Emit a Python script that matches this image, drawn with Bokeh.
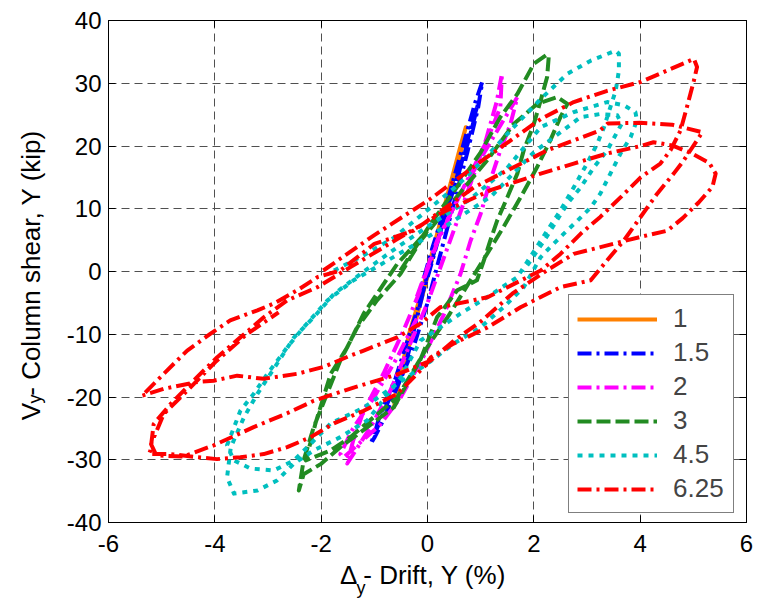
import math
from bokeh.plotting import figure
from bokeh.models import Range1d, LinearAxis, Legend, LegendItem, FixedTicker
from bokeh.embed import file_html
from bokeh.resources import INLINE

# ---------------- data (drift %, column shear kip) ----------------
drift_1 = [-0.15, 0.1, 0.35, 0.55, 0.72, 0.62, 0.4, 0.15, -0.1, -0.35, -0.5, -0.63,
           -0.55, -0.35, -0.1, 0.15, 0.4, 0.6, 0.7]
shear_1 = [-5, 3, 11, 17, 23, 20, 13, 5, -3, -10, -16, -21.6,
           -18, -12, -4, 4, 12, 18, 21.5]

drift_15 = [-0.2, 0.1, 0.4, 0.7, 0.9, 1.03, 0.95, 0.75, 0.5, 0.25, 0.0, -0.3, -0.6, -0.85,
            -1.0, -1.07, -0.95, -0.76, -0.38, 0.0, 0.3, 0.55, 0.78, 0.95, 0.85, 0.6, 0.3,
            0.0, -0.3, -0.6, -0.9, -1.0]
shear_15 = [-5, 4, 12, 21, 27, 30.2, 26, 19, 11, 3, -5, -13, -19, -24,
            -26.5, -27.5, -25, -21.1, -13.7, -0.4, 8, 15, 21, 26.7, 24, 16, 8,
            -1, -9, -17, -23, -26]

drift_2 = [-0.2, 0.18, 0.49, 0.81, 1.12, 1.37, 1.4, 1.3, 1.1, 0.85, 0.6, 0.3, 0.0, -0.35,
           -0.7, -1.05, -1.35, -1.51, -1.4, -1.2, -0.83, -0.45, -0.19, 0.2, 0.6, 1.0, 1.35,
           1.6, 1.69, 1.56, 1.37, 1.18, 1.0, 0.81, 0.62, 0.3, -0.1, -0.5, -0.9, -1.3, -1.57,
           -1.64, -1.4, -1.01, -0.57, -0.19]
shear_2 = [-4, 4.9, 10.2, 15.6, 20.9, 26.2, 31.5, 27, 21, 15, 9, 2, -5, -12,
           -19, -24.5, -28.5, -30.6, -27, -22.2, -16.3, -9.4, -4.1, 5, 12, 18, 23,
           26.5, 27.8, 23.5, 19.3, 14.5, 9.2, 4.9, -0.4, -7, -14, -20, -24.5, -27.5, -29.6,
           -29.1, -25, -20.1, -13.7, -7.3]

drift_3 = [-0.51, 0.06, 0.6, 1.0, 1.37, 1.69, 2.0, 2.25, 2.28, 2.25, 2.13, 2.0, 1.81, 1.69,
           1.5, 1.31, 1.18, 1.06, 0.93, 0.56, 0.18, -0.13, -0.63, -1.13, -1.64, -2.01, -2.33,
           -2.42, -2.33, -2.14, -1.89, -1.64, -1.32, -0.95, -0.51, -0.13, 0.49, 1.12, 1.62,
           2.06, 2.44, 2.63, 2.5, 2.31, 2.06, 1.75, 1.43, 1.12, 0.81, 0.4, 0.0, -0.57, -1.01,
           -1.45, -1.82, -2.29, -2.1, -1.82, -1.51, -1.2, -0.57, 0.0]
shear_3 = [0.16, 7.6, 14, 19, 24.6, 28.3, 33.1, 34.6, 34.2, 31.0, 27.3, 23.5, 19.3, 15.6,
           11.8, 8.1, 4.9, 1.75, -1.4, -3.0, -7.3, -14, -21.6, -24.8, -28.0, -30.7, -32.3,
           -34.9, -30.1, -24.8, -19.5, -14.2, -8.9, -4.6, -0.4, 4.9, 11.3, 17.7, 23.5,
           26.7, 27.8, 26.7, 24.6, 20.9, 16.6, 11.8, 7.1, 2.8, -1.4, -7, -12, -20.1, -23.2,
           -26.4, -28.5, -30.1, -24, -16.3, -12.1, -6.7, 1.2, 6.5]

drift_45 = [-1.76, -1.26, -0.63, 0.06, 0.6, 1.13, 1.62, 2.13, 2.63, 3.07, 3.54, 3.6, 3.6, 3.54,
            3.44, 3.32, 3.19, 3.0, 2.75, 2.5, 2.25, 2.13, 1.69, 1.12, 0.62, 0.24, -0.13, -0.51,
            -1.13, -1.64, -2.14, -2.51, -2.83, -3.2, -3.64, -3.77, -3.7, -3.45, -3.2, -2.83,
            -2.51, -2.14, -1.76, -1.26, -0.63, 0.06, 0.8, 1.5, 2.13, 2.75, 3.38, 3.69, 3.91,
            3.94, 3.82, 3.63, 3.44, 3.25, 3.07, 2.82, 2.56, 2.31, 2.13, 1.81, 1.43, 1.0, 0.49,
            0.0, -0.57, -1.2, -1.82, -2.2, -2.51, -2.89, -3.33, -3.64, -3.77, -3.52, -3.27,
            -3.01, -2.64, -2.33, -1.88, -1.39, -0.6, 0.3, 1.2, 2.0, 2.88, 3.25, 3.57, 3.65,
            3.38, 3.13, 2.88, 2.63, 2.2, 1.8]
shear_45 = [0.16, 2.3, 5.4, 10.2, 14, 18.5, 23, 27.5, 31.5, 33.6, 35.2, 34.7, 32.0, 28.8,
            26.2, 23.0, 20.3, 17.2, 13.4, 9.7, 6.5, 4.9, -0.9, -4.1, -6.7, -8.9, -11.0, -17,
            -23.7, -26.4, -28.5, -30.6, -33.3, -34.9, -35.4, -32.8, -28.0, -23.2, -19.5, -14.7,
            -10.5, -7.3, -3.6, -0.4, 3.5, 7.5, 11.5, 16.5, 23.0, 25.4, 27.0, 26.5, 25.4,
            24.1, 21.4, 18.8, 15.6, 12.4, 10.2, 8.1, 6.0, 3.9, 2.3, -2.5, -5.7, -8.9, -11.5,
            -14.7, -17.9, -21.7, -24.2, -27.5, -30.1, -31.7, -31.4, -30.1, -27.7, -22.2, -19.5,
            -16.3, -12.1, -8.9, -4.6, -1.4, 2.5, 7, 12, 19, 24.6, 25.1, 24.9, 23.5,
            19.3, 16.6, 13.4, 10.8, 5, 0]

drift_625 = [-1.96, -1.0, 0.06, 1.0, 2.13, 2.75, 3.38, 4.01, 4.88, 5.01, 5.07, 5.01, 4.88,
             4.76, 4.57, 4.38, 4.01, 3.63, 3.25, 2.88, 2.5, 2.13, 1.13, 0.24, -0.13, -0.57,
             -1.2, -1.45, -1.95, -2.45, -3.08, -3.58, -4.02, -4.33, -4.96, -5.37, -4.96, -4.52,
             -4.08, -3.71, -3.2, -2.89, -2.45, -2.07, -1.64, -1.0, -0.26, 0.87, 1.62, 2.25,
             3.25, 3.39, 4.0, 4.6, 5.17, 4.82, 4.63, 4.32, 4.0, 3.69, 3.38, 3.07, 2.5, 1.75,
             1.13, 0.49, 0.06, -0.04, -0.57, -1.2, -1.76, -2.2, -2.64, -3.08, -3.52, -3.96,
             -4.33, -4.83, -5.24, -5.21, -5.15, -4.83, -4.33, -3.96, -3.52, -3.08, -2.64,
             -2.07, -1.45, -0.6, 0.3, 1.2, 2.13, 2.75, 3.38, 4.01, 4.25, 4.6, 4.95, 5.3, 5.42,
             5.36, 5.1, 4.8, 4.51, 4.0, 3.63, 3.12, 2.75, 2.25, 1.6, 1.0, 0.5, 0.06, -0.6,
             -1.39, -2.14, -2.64, -3.27, -4.02, -4.6, -5.1, -5.2, -4.96, -4.52, -4.0, -3.4, -2.8]
shear_625 = [0.16, 5.8, 11.6, 17.5, 24.3, 27.0, 28.8, 30.2, 33.4, 33.9, 32.6, 30.4, 26.2,
             22.5, 19.3, 17.2, 15.0, 11.8, 8.7, 6.0, 2.8, 0.16, -4.1, -5.7, -8.3, -10.5,
             -12.6, -13.4, -15.2, -16.3, -17.1, -16.6, -17.4, -17.6, -18.7, -19.8, -16.3, -12.6,
             -9.9, -7.8, -6.2, -5.1, -3.0, -0.9, 0.16, 4.4, 6.5, 13.4, 16.6, 19.3,
             22.5, 23.6, 23.7, 23.4, 22.2, 17.7, 15.6, 12.4, 8.6, 4.9, 1.8, -1.4, -2.5, -5.7,
             -8.9, -11.5, -13.7, -15.0, -19.5, -22.2, -24.2, -26.4, -28.0, -29.1, -29.6, -29.9,
             -29.6, -29.1, -29.1, -28.5, -24.3, -21.1, -16.8, -13.7, -10.5, -7.3, -4.6,
             -2.5, 0.7, 5.0, 9.5, 13.0, 15.6, 17.2, 18.8, 20.0, 20.6, 20.1, 18.9, 17.3, 15.6,
             13.5, 11.0, 8.5, 6.5, 5.5, 4.7, 3.6, 2.8, 0.2, -3.5, -8.0, -11.0, -14.2, -16.5,
             -18.5, -20.6, -22.6, -24.8, -27.7, -29.5, -29.3, -27.5, -22.7, -19.0, -14.5, -10.0, -6.5]

series_names = ["1", "1.5", "2", "3", "4.5", "6.25"]
x_tick_values = [-6, -4, -2, 0, 2, 4, 6]
x_tick_labels = ["-6", "-4", "-2", "0", "2", "4", "6"]
y_tick_values = [-40, -30, -20, -10, 0, 10, 20, 30, 40]
y_tick_labels = ["-40", "-30", "-20", "-10", "0", "10", "20", "30", "40"]
x_title = "Δ  - Drift, Y (%)"
y_title = "V  - Column shear, Y (kip)"
subscript = "y"

FONT = "Liberation Sans"
W, H = 753, 600
LEFT, TOP, BOTTOM = 108, 20, 78

p = figure(width=W, height=H, x_range=Range1d(-6, 6), y_range=Range1d(-40, 40),
           output_backend="svg", toolbar_location=None,
           min_border_left=LEFT, min_border_right=7, min_border_top=TOP, min_border_bottom=BOTTOM)
p.background_fill_color = "white"
p.border_fill_color = "white"
p.outline_line_color = "black"
p.outline_line_width = 1

for ax, vals, labs in ((p.xaxis[0], x_tick_values, x_tick_labels), (p.yaxis[0], y_tick_values, y_tick_labels)):
    ax.ticker = FixedTicker(ticks=vals)
    ax.major_label_overrides = {v: s for v, s in zip(vals, labs)}
    ax.major_tick_in = 7
    ax.major_tick_out = 0
    ax.minor_tick_in = 0
    ax.minor_tick_out = 0
    ax.axis_line_color = "black"
    ax.major_tick_line_color = "black"
    ax.major_label_text_font = FONT
    ax.major_label_text_font_size = "24px"
    ax.major_label_text_color = "black"
    ax.axis_label_text_font = FONT
    ax.axis_label_text_font_size = "26px"
    ax.axis_label_text_font_style = "normal"
    ax.axis_label_text_color = "black"
p.xaxis.major_label_standoff = 12
p.yaxis.major_label_standoff = 7
p.xaxis.axis_label = x_title
p.yaxis.axis_label = y_title
p.xaxis.axis_label_standoff = 5
p.yaxis.axis_label_standoff = 18

rax = LinearAxis(ticker=FixedTicker(ticks=y_tick_values),
                 major_label_overrides={v: "" for v in y_tick_values},
                 major_tick_in=7, major_tick_out=0, minor_tick_in=0, minor_tick_out=0,
                 major_label_standoff=0, axis_line_color="black")
tax = LinearAxis(ticker=FixedTicker(ticks=x_tick_values),
                 major_label_overrides={v: "" for v in x_tick_values},
                 major_tick_in=7, major_tick_out=0, minor_tick_in=0, minor_tick_out=0,
                 major_label_standoff=0, axis_line_color="black")
p.add_layout(rax, "right")
p.add_layout(tax, "above")

# subscripts: carried by tick-less helper axes placed just outside the main axes
# (tick positions = where the subscript sits next to the Δ / V of the titles)
x_sub_pos = (360.5 - 427.0) / 53.17
y_sub_pos = (271.0 - 398.5) / 6.275
sub_kw = dict(axis_line_color=None, major_tick_line_color=None, minor_tick_line_color=None,
              major_tick_in=0, major_tick_out=0, minor_tick_in=0, minor_tick_out=0,
              major_label_text_font=FONT, major_label_text_font_size="18px",
              major_label_text_color="black")
xsub = LinearAxis(ticker=FixedTicker(ticks=[x_sub_pos]),
                  major_label_overrides={x_sub_pos: subscript},
                  major_label_standoff=-15, **sub_kw)
ysub = LinearAxis(ticker=FixedTicker(ticks=[y_sub_pos]),
                  major_label_overrides={y_sub_pos: subscript},
                  major_label_orientation="vertical",
                  major_label_standoff=-32, **sub_kw)
p.add_layout(xsub, "below")
p.add_layout(ysub, "left")

p.xgrid.ticker = FixedTicker(ticks=x_tick_values)
p.ygrid.ticker = FixedTicker(ticks=y_tick_values)
p.grid.grid_line_color = "#505050"
p.grid.grid_line_width = 1
p.grid.grid_line_dash = "8 5"

styles = [
    ("#FF8000", "solid"),
    ("#0000FF", "14 5 3 5"),
    ("#FF00FF", "14 5 3 5"),
    ("#228B22", "14 5"),
    ("#00BFBF", "5 6"),
    ("#FF0000", "14 5 3 5"),
]
data = [(drift_1, shear_1), (drift_15, shear_15), (drift_2, shear_2),
        (drift_3, shear_3), (drift_45, shear_45), (drift_625, shear_625)]

items = []
for name, (xs, ys), (col, dash) in zip(series_names, data, styles):
    r = p.line(xs, ys, line_color=col, line_width=4, line_dash=dash, line_join="round")
    items.append(LegendItem(label=name, renderers=[r]))

legend = Legend(items=items, location=(460, 9), orientation="vertical",
                border_line_color="black", border_line_width=1, background_fill_color="white",
                background_fill_alpha=1.0, padding=8, spacing=3, margin=0,
                label_height=30, glyph_width=80, glyph_height=20, label_standoff=16,
                label_width=52, label_text_font=FONT, label_text_font_size="26px",
                label_text_baseline="middle")
p.add_layout(legend, "center")

open("out.html", "w").write(file_html(p, INLINE))
